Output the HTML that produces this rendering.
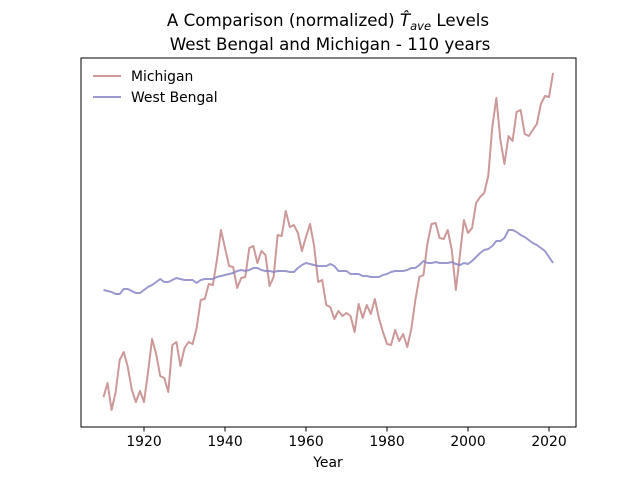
<!DOCTYPE html>
<html><head><meta charset="utf-8"><style>
body{margin:0;background:#fff;}
svg{display:block;font-family:"DejaVu Sans","Liberation Sans",sans-serif;}
</style></head><body>
<svg id="chart" width="640" height="480" viewBox="0 0 640 480">
<rect width="640" height="480" fill="#fff"/>
<text x="328" y="26" font-size="16.7" text-anchor="middle">A Comparison (normalized) <tspan font-style="italic">T̂</tspan><tspan font-style="italic" font-size="11.5" dy="4">ave</tspan><tspan dy="-4"> Levels</tspan></text>
<text x="330" y="50" font-size="16.7" text-anchor="middle">West Bengal and Michigan - 110 years</text>
<g id="plot"></g>
<rect x="81" y="58" width="495" height="369" fill="none" stroke="#000" stroke-width="1"/>
<g id="xticks"></g>
<text x="328" y="467" font-size="13.9" text-anchor="middle">Year</text>
<g>
<g>
<line x1="93" y1="76" x2="121" y2="76" stroke="#c48686" stroke-opacity="0.85" stroke-width="2"/>
<text x="131" y="81" font-size="13.9">Michigan</text></g>
<g>
<line x1="93" y1="97" x2="121" y2="97" stroke="#8a86c8" stroke-opacity="0.85" stroke-width="2"/>
<text x="131" y="102" font-size="13.9">West Bengal</text></g>
</g>
</svg>
<script>
const startYear = 1910;
const michigan = [33,47,20,38,70,78,63,40,28,39,
28,58,91,76,54,52,38,85,88,64,
82,88,86,102,130,131,146,145,170,200,
182,164,163,142,152,153,182,184,167,179,
175,144,153,195,194,219,203,205,197,179,
193,206,184,148,150,125,123,111,119,114,
117,114,98,126,112,125,116,131,112,98,
86,85,100,89,96,83,101,130,153,155,
187,206,207,192,191,200,180,140,175,210,
197,202,227,233,237,254,303,332,290,266,
294,289,318,320,296,294,300,306,326,334,
333,357];
const westBengal = [140,139,138,136,136,141,141,139,137,137,
140,143,145,148,151,148,148,150,152,151,
150,150,150,147,150,151,151,151,153,154,
155,156,157,159,160,159,160,162,162,160,
159,159,158,159,159,159,158,158,162,165,
167,166,165,164,164,164,166,164,159,159,
159,156,156,156,154,154,153,153,153,155,
156,158,159,159,159,160,162,162,165,169,
167,167,168,167,167,167,168,166,165,167,
166,169,173,177,180,181,184,189,189,192,
200,200,198,195,193,190,187,185,182,179,
173,167];
const xTicks = [1920,1940,1960,1980,2000,2020];

const NS="http://www.w3.org/2000/svg";
function xs(yr){return 103.5+(yr-1910)*4.05;}
function ys(v){return 430-v;}
const plot=document.getElementById('plot');
function drawLine(arr,color,name){
  const p=document.createElementNS(NS,'polyline');
  p.setAttribute('points',arr.map((v,i)=>xs(startYear+i).toFixed(2)+','+ys(v).toFixed(2)).join(' '));
  p.setAttribute('fill','none');p.setAttribute('stroke',color);
  p.setAttribute('stroke-opacity','0.85');p.setAttribute('stroke-width','2');
  p.setAttribute('stroke-linejoin','round');
  
  
  plot.appendChild(p);
}
drawLine(michigan,'#c48686','michigan-line');
drawLine(westBengal,'#8a86c8','west-bengal-line');
const xt=document.getElementById('xticks');
xTicks.forEach(t=>{
  const l=document.createElementNS(NS,'line');
  l.setAttribute('x1',xs(t));l.setAttribute('x2',xs(t));
  l.setAttribute('y1',427);l.setAttribute('y2',431.5);l.setAttribute('stroke','#000');
  
  
  xt.appendChild(l);
  const tx=document.createElementNS(NS,'text');
  tx.setAttribute('x',xs(t));tx.setAttribute('y',446);
  tx.setAttribute('font-size','13.9');tx.setAttribute('text-anchor','middle');
  tx.textContent=t;
  
  
  xt.appendChild(tx);
});
</script>
</body></html>
